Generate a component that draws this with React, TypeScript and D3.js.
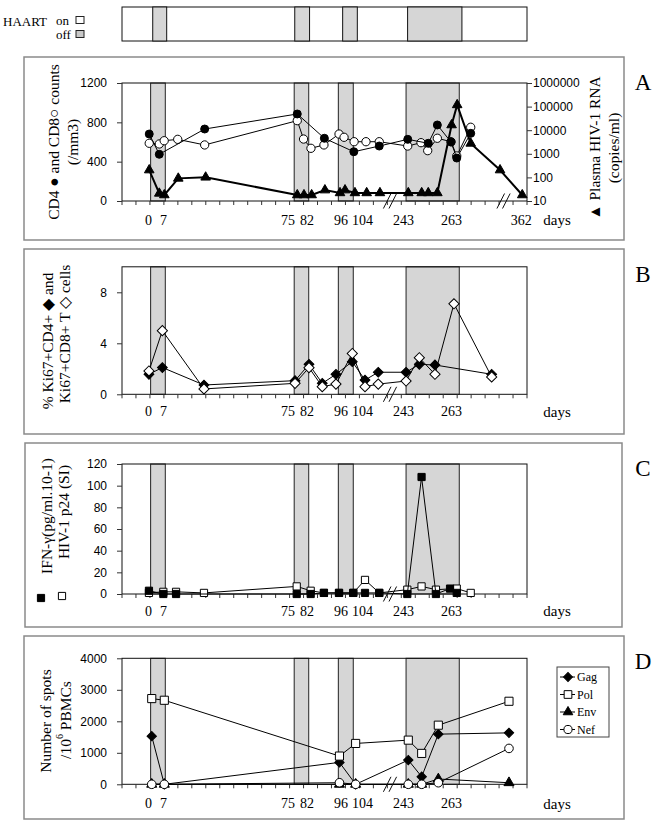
import { useEffect, useRef } from "react";
import * as d3 from "d3";

const serif = "'Liberation Serif', 'Times New Roman', serif";
const sans = "'Liberation Sans', Arial, sans-serif";

// x axis is a slot axis (one tick per slot), days are only labels on it
const slotCount = 29;
const dayLabels = ["0", "7", "75", "82", "96", "104", "243", "263"];
const dayLabelSlots = [1.9, 2.97, 11.89, 13.25, 15.68, 17.22, 20.16, 23.59];
const lastDayLabel = "362";
const lastDaySlot = 28.59;
const offPeriods = [[2.05, 3.1], [12.33, 13.37], [15.49, 16.56], [20.34, 24.15]];
const haartOffPeriods = [[2.2, 3.2], [12.37, 13.43], [15.8, 16.85], [20.45, 24.34]];
const breakSlots = [19.19];
const breakSlotsA = [19.19, 27.32];

// panel A
const cd4Slots = [1.95, 2.67, 5.92, 12.55, 14.49, 16.6, 18.42, 20.46, 21.93, 22.58, 23.56, 23.97, 24.97];
const cd4Counts = [681, 475, 732, 885, 638, 501, 559, 627, 587, 773, 600, 437, 688];
const cd8Slots = [1.95, 2.67, 3.02, 3.99, 5.92, 12.55, 13.0, 13.53, 14.46, 15.54, 15.9, 16.62, 17.47, 18.42, 20.46, 21.41, 21.89, 22.58, 23.56, 23.97, 24.97];
const cd8Counts = [587, 580, 613, 627, 570, 817, 630, 536, 570, 681, 648, 603, 603, 603, 559, 593, 512, 638, 603, 458, 750];
const rnaSlots = [1.95, 2.67, 3.03, 4.03, 5.99, 12.55, 13.03, 13.58, 14.53, 15.61, 15.97, 16.68, 17.52, 18.47, 20.5, 21.46, 21.93, 22.58, 23.6, 24.0, 24.97, 27.07, 28.66];
const rnaCopies = [205, 21, 18, 91, 101, 18, 18, 18, 29, 22, 29, 22, 22, 22, 22, 22, 22, 22, 16600, 118000, 2760, 205, 18];

// panel B
const ki67Cd4Slots = [1.93, 2.89, 5.87, 12.39, 13.39, 14.34, 15.32, 16.49, 17.4, 18.35, 20.34, 21.29, 22.41, 26.47];
const ki67Cd4 = [1.57, 2.1, 0.73, 1.07, 2.35, 0.86, 1.57, 2.56, 1.12, 1.73, 1.73, 2.35, 2.3, 1.57];
const ki67Cd8Slots = [1.93, 2.89, 5.87, 12.39, 13.39, 14.34, 15.32, 16.49, 17.4, 18.35, 20.34, 21.29, 22.41, 23.77, 26.47];
const ki67Cd8 = [1.83, 4.99, 0.42, 0.86, 2.09, 0.6, 0.8, 3.2, 0.6, 0.8, 1.04, 2.87, 1.57, 7.1, 1.36];

// panel C
const ifnSlots = [1.93, 2.96, 3.87, 12.51, 13.51, 14.46, 15.54, 16.56, 17.4, 18.42, 20.43, 21.45, 22.48, 23.49, 23.97];
const ifnValues = [3, 0, 0, 0, 0, 1, 1, 1, 1, 1, 0, 108, 0, 5, 1];
const p24Slots = [1.93, 2.96, 3.87, 5.87, 12.51, 13.51, 14.46, 15.54, 16.56, 17.4, 18.42, 20.43, 21.45, 22.48, 23.97, 24.97];
const p24Values = [1, 2, 2, 1, 7, 3, 1, 1, 1, 13, 1, 4, 7, 4, 5, 1];

// panel D
const spotSlots = [2.13, 3.03, 15.57, 16.73, 20.5, 21.46, 22.65, 27.71];
const gagSpots = [1528, 0, 696, 0, 769, 240, 1592, 1633];
const polSpots = [2721, 2668, 896, 1297, 1402, 981, 1877, 2636];
const envSpots = [0, 0, 0, 0, 0, 0, 168, 50];
const nefSpots = [0, 0, 50, 0, 0, 0, 50, 1139];
const legendNames = ["Gag", "Pol", "Env", "Nef"];

const shapes: Record<string, any> = {
  circle: d3.symbolCircle,
  triangle: d3.symbolTriangle,
  diamond: d3.symbolSquare,
  square: d3.symbolSquare,
};

const App = () => {
  const svgRef = useRef<SVGSVGElement>(null);

  useEffect(() => {
    const svg = d3.select(svgRef.current);
    svg.selectAll("*").remove();

    const x = d3.scaleLinear().domain([0, slotCount]).range([122, 527]);

    const marker = (g: any, px: number, py: number, shape: string, size: number, fill: string) => {
      g.append("path")
        .attr("transform", `translate(${px},${py})${shape === "diamond" ? " rotate(45)" : ""}`)
        .attr("d", d3.symbol(shapes[shape], size)())
        .attr("fill", fill)
        .attr("stroke", "#000")
        .attr("stroke-width", 1);
    };

    const series = (g: any, xs: number[], ys: number[], y: any, shape: string, size: number, fill: string, lw = 1) => {
      const pts = xs.map((s, i) => [x(s), y(ys[i])] as [number, number]);
      g.append("path")
        .attr("d", d3.line()(pts))
        .attr("fill", "none")
        .attr("stroke", "#000")
        .attr("stroke-width", lw);
      pts.forEach((p) => marker(g, p[0], p[1], shape, size, fill));
    };

    const vText = (cx: number, cy: number, text: string, size = 15.5) =>
      svg
        .append("text")
        .attr("transform", `translate(${cx},${cy}) rotate(-90)`)
        .attr("text-anchor", "middle")
        .attr("dominant-baseline", "central")
        .attr("font-family", serif)
        .attr("font-size", size)
        .text(text);

    const panel = (box: number[], top: number, bottom: number, letter: string, labelY: number, breaks: number[]) => {
      svg
        .append("rect")
        .attr("x", box[0])
        .attr("y", box[1])
        .attr("width", box[2])
        .attr("height", box[3])
        .attr("fill", "none")
        .attr("stroke", "#8a8a8a")
        .attr("stroke-width", 1.5);
      const g = svg.append("g");
      g.append("rect")
        .attr("x", x(0))
        .attr("y", top)
        .attr("width", x(slotCount) - x(0))
        .attr("height", bottom - top)
        .attr("fill", "#fff");
      g.selectAll("rect.off")
        .data(offPeriods)
        .join("rect")
        .attr("class", "off")
        .attr("x", (d) => x(d[0]))
        .attr("y", top)
        .attr("width", (d) => x(d[1]) - x(d[0]))
        .attr("height", bottom - top)
        .attr("fill", "#d6d6d6")
        .attr("stroke", "#222");
      g.append("rect")
        .attr("x", x(0))
        .attr("y", top)
        .attr("width", x(slotCount) - x(0))
        .attr("height", bottom - top)
        .attr("fill", "none")
        .attr("stroke", "#111");
      g.selectAll("line.xt")
        .data(d3.range(0, slotCount + 1))
        .join("line")
        .attr("class", "xt")
        .attr("x1", (d) => x(d))
        .attr("x2", (d) => x(d))
        .attr("y1", bottom)
        .attr("y2", bottom + 4)
        .attr("stroke", "#333");
      g.selectAll("text.day")
        .data(dayLabels)
        .join("text")
        .attr("class", "day")
        .attr("x", (d, i) => x(dayLabelSlots[i]))
        .attr("y", labelY)
        .attr("text-anchor", "middle")
        .attr("dominant-baseline", "central")
        .attr("font-family", serif)
        .attr("font-size", 14)
        .text((d) => d);
      g.append("text")
        .attr("x", 557)
        .attr("y", labelY)
        .attr("text-anchor", "middle")
        .attr("dominant-baseline", "central")
        .attr("font-family", serif)
        .attr("font-size", 15)
        .text("days");
      svg
        .append("text")
        .attr("x", 643)
        .attr("y", box[1] + 25)
        .attr("text-anchor", "middle")
        .attr("dominant-baseline", "central")
        .attr("font-family", serif)
        .attr("font-size", 23)
        .text(letter);
      const drawBreaks = () =>
        breaks.forEach((b) => {
          [-2.8, 2.8].forEach((o) => {
            g.append("line")
              .attr("x1", x(b) + o - 3.8)
              .attr("y1", bottom + 7.5)
              .attr("x2", x(b) + o + 3.8)
              .attr("y2", bottom - 7.5)
              .attr("stroke", "#111")
              .attr("stroke-width", 1);
          });
        });
      return { g, drawBreaks };
    };

    const leftAxis = (g: any, y: any, ticks: number[]) => {
      g.append("g")
        .attr("transform", `translate(${x(0)},0)`)
        .call(d3.axisLeft(y).tickValues(ticks).tickSize(5).tickPadding(10).tickFormat(d3.format("d")))
        .call((a: any) => a.select(".domain").remove())
        .call((a: any) => a.selectAll("line").attr("stroke", "#333"))
        .call((a: any) => a.selectAll("text").attr("font-family", sans).attr("font-size", 12).attr("fill", "#000"));
    };

    // HAART schedule bar
    const hb = svg.append("g");
    hb.append("rect")
      .attr("x", x(0))
      .attr("y", 7)
      .attr("width", x(slotCount) - x(0))
      .attr("height", 34)
      .attr("fill", "#fff")
      .attr("stroke", "#111");
    hb.selectAll("rect.off")
      .data(haartOffPeriods)
      .join("rect")
      .attr("class", "off")
      .attr("x", (d) => x(d[0]))
      .attr("y", 7)
      .attr("width", (d) => x(d[1]) - x(d[0]))
      .attr("height", 34)
      .attr("fill", "#d6d6d6")
      .attr("stroke", "#111");
    hb.append("text").attr("x", 3).attr("y", 21).attr("dominant-baseline", "central")
      .attr("font-family", serif).attr("font-size", 13).text("HAART");
    hb.append("text").attr("x", 56).attr("y", 20).attr("dominant-baseline", "central")
      .attr("font-family", serif).attr("font-size", 13).text("on");
    hb.append("text").attr("x", 56).attr("y", 34).attr("dominant-baseline", "central")
      .attr("font-family", serif).attr("font-size", 13).text("off");
    hb.append("rect").attr("x", 76).attr("y", 16.5).attr("width", 8).attr("height", 7).attr("fill", "#fff").attr("stroke", "#222");
    hb.append("rect").attr("x", 76).attr("y", 30.5).attr("width", 8).attr("height", 7).attr("fill", "#c8c8c8").attr("stroke", "#222");

    // ---- Panel A
    const pa = panel([24, 57, 600, 183], 83, 201, "A", 220, breakSlotsA);
    const yA = d3.scaleLinear().domain([0, 1200]).range([201, 83]);
    const yRna = d3.scaleLog().domain([10, 1000000]).range([201, 83]);
    leftAxis(pa.g, yA, [0, 400, 800, 1200]);
    pa.g.append("g")
      .attr("transform", `translate(${x(slotCount)},0)`)
      .call(d3.axisRight(yRna).tickValues([10, 100, 1000, 10000, 100000, 1000000]).tickSize(5).tickPadding(1).tickFormat(d3.format("d")))
      .call((a: any) => a.select(".domain").remove())
      .call((a: any) => a.selectAll("line").attr("stroke", "#333"))
      .call((a: any) => a.selectAll("text").attr("font-family", sans).attr("font-size", 12).attr("fill", "#000"));
    pa.g.append("text")
      .attr("x", x(lastDaySlot))
      .attr("y", 220)
      .attr("text-anchor", "middle")
      .attr("dominant-baseline", "central")
      .attr("font-family", serif)
      .attr("font-size", 14)
      .text(lastDayLabel);
    series(pa.g, rnaSlots, rnaCopies, yRna, "triangle", 40, "#000", 2);
    series(pa.g, cd8Slots, cd8Counts, yA, "circle", 54, "#fff");
    series(pa.g, cd4Slots, cd4Counts, yA, "circle", 50, "#000");
    pa.drawBreaks();
    vText(53, 142, "CD4 \u25CF and CD8\u25CB counts");
    vText(72, 142, "(/mm3)");
    vText(594, 148, "\u25B2 Plasma HIV-1 RNA");
    vText(613, 148, "(copies/ml)");

    // ---- Panel B
    const pb = panel([24, 249, 600, 185], 266.8, 394.3, "B", 411.7, breakSlots);
    const yB = d3.scaleLinear().domain([0, 10]).range([394.3, 266.8]);
    leftAxis(pb.g, yB, [0, 4, 8]);
    series(pb.g, ki67Cd4Slots, ki67Cd4, yB, "diamond", 48, "#000");
    series(pb.g, ki67Cd8Slots, ki67Cd8, yB, "diamond", 52, "#fff");
    pb.drawBreaks();
    vText(47, 341, "% Ki67+CD4+ \u25C6 and");
    vText(64, 334, "Ki67+CD8+ T \u25C7 cells");

    // ---- Panel C
    const pc = panel([25, 443, 597, 184], 464, 594, "C", 611, breakSlots);
    const yC = d3.scaleLinear().domain([0, 120]).range([594, 464]);
    leftAxis(pc.g, yC, [0, 20, 40, 60, 80, 100, 120]);
    series(pc.g, p24Slots, p24Values, yC, "square", 52, "#fff");
    series(pc.g, ifnSlots, ifnValues, yC, "square", 52, "#000");
    pc.drawBreaks();
    vText(46, 516, "IFN-\u03B3(pg/ml.10-1)");
    vText(63, 512, "HIV-1 p24 (SI)");
    marker(svg, 41, 598, "square", 52, "#000");
    marker(svg, 62, 596, "square", 52, "#fff");

    // ---- Panel D
    const pd = panel([24, 636, 600, 183], 658.3, 784.3, "D", 803.5, breakSlots);
    const yD = d3.scaleLinear().domain([0, 4000]).range([784.3, 658.3]);
    leftAxis(pd.g, yD, [0, 1000, 2000, 3000, 4000]);
    const dSeries = [
      { vals: gagSpots, shape: "diamond", size: 44, fill: "#000" },
      { vals: polSpots, shape: "square", size: 66, fill: "#fff" },
      { vals: envSpots, shape: "triangle", size: 44, fill: "#000" },
      { vals: nefSpots, shape: "circle", size: 58, fill: "#fff" },
    ];
    dSeries.forEach((s) => series(pd.g, spotSlots, s.vals, yD, s.shape, s.size, s.fill));
    pd.drawBreaks();
    vText(45, 721, "Number of spots");
    svg
      .append("text")
      .attr("transform", "translate(65,720) rotate(-90)")
      .attr("text-anchor", "middle")
      .attr("dominant-baseline", "central")
      .attr("font-family", serif)
      .attr("font-size", 15.5)
      .call((t: any) => {
        t.append("tspan").text("/10");
        t.append("tspan").attr("baseline-shift", "super").attr("font-size", 10).text("6");
        t.append("tspan").text("  PBMCs");
      });

    // legend
    const lg = svg.append("g");
    lg.append("rect").attr("x", 557).attr("y", 667).attr("width", 52).attr("height", 70)
      .attr("fill", "#fff").attr("stroke", "#444");
    dSeries.forEach((s, i) => {
      const ly = 677 + i * 17.5;
      lg.append("line").attr("x1", 560).attr("x2", 575).attr("y1", ly).attr("y2", ly).attr("stroke", "#000");
      marker(lg, 568, ly, s.shape, s.size * 0.9, s.fill);
      lg.append("text").attr("x", 577).attr("y", ly).attr("dominant-baseline", "central")
        .attr("font-family", serif).attr("font-size", 12).text(legendNames[i]);
    });
  }, []);

  return (
    <svg
      ref={svgRef}
      width={657}
      height={826}
      style={{ position: "absolute", left: 0, top: 0, background: "#fff" }}
    />
  );
};

export default App;
